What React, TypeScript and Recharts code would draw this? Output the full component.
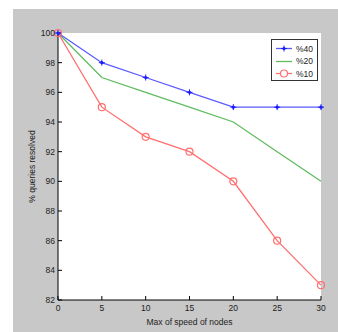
import { LineChart, Line, XAxis, YAxis, CartesianGrid, Label } from 'recharts';

const speeds = [0, 5, 10, 15, 20, 25, 30];
const q40 = [100, 98, 97, 96, 95, 95, 95];
const q20 = [100, 97, 96, 95, 94, 92, 90];
const q10 = [100, 95, 93, 92, 90, 86, 83];
const xTicks = [0, 5, 10, 15, 20, 25, 30];
const yTicks = [82, 84, 86, 88, 90, 92, 94, 96, 98, 100];

const BLUE = '#5a5aff';
const GREEN = '#60bc60';
const RED = '#ff7070';
const FONT = '"Liberation Sans", Arial, sans-serif';

const data = speeds.map((s, i) => ({ speed: s, q40: q40[i], q20: q20[i], q10: q10[i] }));

function PlusDot(props: any) {
  const { cx, cy } = props;
  if (cx == null || cy == null) return null;
  return (
    <g>
      <line x1={cx - 3} y1={cy} x2={cx + 3} y2={cy} stroke="#2020ff" strokeWidth={1} />
      <line x1={cx} y1={cy - 3} x2={cx} y2={cy + 3} stroke="#2020ff" strokeWidth={1} />
      <circle cx={cx} cy={cy} r={1.6} fill="#1a1aff" />
    </g>
  );
}

function CircleDot(props: any) {
  const { cx, cy } = props;
  if (cx == null || cy == null) return null;
  return <circle cx={cx} cy={cy} r={3.5} fill="none" stroke={RED} strokeWidth={1.2} />;
}

function YTitle(props: any) {
  const { viewBox } = props;
  const x = viewBox.x + 5;
  const y = viewBox.y + viewBox.height / 2;
  return (
    <text x={x} y={y} transform={`rotate(-90, ${x}, ${y})`} textAnchor="middle" dominantBaseline="middle"
      fontSize={8.5} fontFamily={FONT} fill="#222">
      % queries resolved
    </text>
  );
}

const legendItems = [
  { name: '%40', color: BLUE, marker: 'plus' },
  { name: '%20', color: GREEN, marker: 'none' },
  { name: '%10', color: RED, marker: 'circle' },
];

export default function App() {
  const tickStyle = { fontSize: 8.5, fontFamily: FONT, fill: '#222' };
  return (
    <div style={{ position: 'absolute', left: 0, top: 0, width: 338, height: 332, background: '#fff' }}>
      <div style={{ position: 'absolute', left: 13, top: 9, width: 325, height: 323, background: '#c8c8c8' }}>
        <LineChart width={325} height={323} data={data} margin={{ top: 24, right: 17, bottom: 12, left: 15 }}>
          <CartesianGrid horizontal={false} vertical={false} fill="#fff" />
          <XAxis dataKey="speed" type="number" domain={[0, 30]} ticks={xTicks} height={20}
            stroke="#000" tickSize={-4} tickMargin={9} tick={tickStyle} interval={0}>
            <Label value="Max of speed of nodes" position="bottom" offset={-1}
              style={{ fontSize: 8.5, fontFamily: FONT, fill: '#222' }} />
          </XAxis>
          <XAxis xAxisId="top" orientation="top" dataKey="speed" type="number" domain={[0, 30]} ticks={xTicks}
            height={0} stroke="#000" tickSize={-4} tick={false} interval={0}>
            <Label value="% queries resolved" position="top" offset={5}
              style={{ fontSize: 8.5, fontFamily: FONT, fill: '#222' }} />
          </XAxis>
          <YAxis domain={[82, 100]} ticks={yTicks} width={30} stroke="#000" tickSize={-4} tickMargin={7}
            tick={tickStyle} interval={0}>
            <Label content={YTitle} />
          </YAxis>
          <YAxis yAxisId="right" orientation="right" domain={[82, 100]} ticks={yTicks} width={0}
            stroke="#000" tickSize={-4} tick={false} interval={0} />
          <Line dataKey="q20" stroke={GREEN} strokeWidth={1.3} dot={false} activeDot={false}
            isAnimationActive={false} type="linear" />
          <Line dataKey="q10" stroke={RED} strokeWidth={1.3} dot={<CircleDot />} activeDot={false}
            isAnimationActive={false} type="linear" />
          <Line dataKey="q40" stroke={BLUE} strokeWidth={1.3} dot={<PlusDot />} activeDot={false}
            isAnimationActive={false} type="linear" />
        </LineChart>
      </div>
      <div style={{ position: 'absolute', left: 271, top: 39, width: 47, height: 42, background: '#fff',
        border: '1px solid #333', boxSizing: 'border-box', fontFamily: FONT, fontSize: 8.5, color: '#222' }}>
        {legendItems.map((it, i) => (
          <div key={it.name} style={{ position: 'absolute', left: 3, top: 3 + i * 12.5, height: 11,
            display: 'flex', alignItems: 'center' }}>
            <svg width={18} height={11}>
              <line x1={1} y1={5.5} x2={17} y2={5.5} stroke={it.color} strokeWidth={1.3} />
              {it.marker === 'plus' && (
                <g>
                  <line x1={6} y1={5.5} x2={12} y2={5.5} stroke="#2020ff" />
                  <line x1={9} y1={2.5} x2={9} y2={8.5} stroke="#2020ff" />
                  <circle cx={9} cy={5.5} r={1.6} fill="#1a1aff" />
                </g>
              )}
              {it.marker === 'circle' && (
                <circle cx={9} cy={5.5} r={3.5} fill="#fff" stroke={it.color} strokeWidth={1.2} />
              )}
            </svg>
            <span style={{ marginLeft: 3 }}>{it.name}</span>
          </div>
        ))}
      </div>
    </div>
  );
}
